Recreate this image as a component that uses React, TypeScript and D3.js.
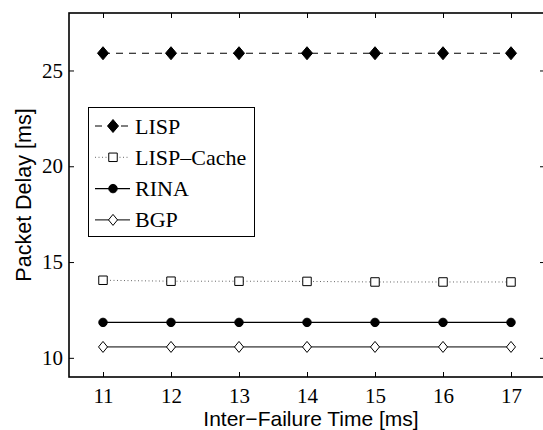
import React, { useEffect, useRef } from "react";
import * as d3 from "d3";

const failureTimes = [11, 12, 13, 14, 15, 16, 17];
const lispDelay = [25.9, 25.9, 25.9, 25.9, 25.9, 25.9, 25.9];
const lispCacheDelay = [14.05, 14.0, 14.0, 13.99, 13.96, 13.96, 13.96];
const rinaDelay = [11.85, 11.85, 11.85, 11.85, 11.85, 11.85, 11.85];
const bgpDelay = [10.57, 10.57, 10.57, 10.57, 10.57, 10.57, 10.57];
const seriesNames = ["LISP", "LISP\u2013Cache", "RINA", "BGP"];
const xTicks = [11, 12, 13, 14, 15, 16, 17];
const yTicks = [10, 15, 20, 25];

// diamond with its own width/height ratio (matlab style, not d3's thin one)
const diamond = (hw: number, hh: number) => ({
  draw(ctx: any) {
    ctx.moveTo(0, -hh);
    ctx.lineTo(hw, 0);
    ctx.lineTo(0, hh);
    ctx.lineTo(-hw, 0);
    ctx.closePath();
  },
});

type Style = {
  dash: string | null;
  stroke: string;
  width: number;
  symbol: any;
  size: number;
  fill: string;
};

const styles: Style[] = [
  { dash: "7,6", stroke: "#000", width: 1.2, symbol: diamond(5.5, 6.5), size: 1, fill: "#000" },
  { dash: "1,2.5", stroke: "#666", width: 1, symbol: d3.symbolSquare, size: 72, fill: "#fff" },
  { dash: null, stroke: "#000", width: 1.2, symbol: d3.symbolCircle, size: 56, fill: "#000" },
  { dash: null, stroke: "#000", width: 1, symbol: diamond(4.5, 5.5), size: 1, fill: "#fff" },
];

const serif = "Liberation Serif, Times New Roman, DejaVu Serif, serif";
const sans = "Liberation Sans, Arial, Helvetica, sans-serif";

const App: React.FC = () => {
  const ref = useRef<SVGSVGElement | null>(null);

  useEffect(() => {
    const svg = d3.select(ref.current);
    svg.selectAll("*").remove();

    const W = 543;
    const H = 430;
    const left = 69;
    const top = 13;
    const right = 545;
    const bottom = 377;

    svg.attr("width", W).attr("height", H);
    svg.append("rect").attr("width", W).attr("height", H).attr("fill", "#fff");

    const x = d3.scaleLinear().domain([10.5, 17.5]).range([left, right]);
    const y = d3.scaleLinear().domain([9, 28]).range([bottom, top]);
    const fmt = d3.format("d");

    // axes
    const bx = svg
      .append("g")
      .attr("transform", `translate(0,${bottom})`)
      .call(
        d3.axisBottom(x).tickValues(xTicks).tickFormat(fmt as any).tickSize(-5).tickSizeOuter(0).tickPadding(11)
      );
    const lx = svg
      .append("g")
      .attr("transform", `translate(${left},0)`)
      .call(
        d3.axisLeft(y).tickValues(yTicks).tickFormat(fmt as any).tickSize(-5).tickSizeOuter(0).tickPadding(6)
      );
    const tx = svg
      .append("g")
      .attr("transform", `translate(0,${top})`)
      .call(d3.axisTop(x).tickValues(xTicks).tickSize(-5).tickSizeOuter(0).tickFormat(() => ""));
    const rx = svg
      .append("g")
      .attr("transform", `translate(${right},0)`)
      .call(d3.axisRight(y).tickValues(yTicks).tickSize(-5).tickSizeOuter(0).tickFormat(() => ""));

    [bx, lx, tx, rx].forEach((g) => {
      g.attr("font-family", serif).attr("font-size", 21);
      g.select(".domain").remove();
      g.selectAll(".tick line").attr("stroke", "#000").attr("stroke-width", 1);
      g.selectAll("text").attr("fill", "#000");
    });

    svg
      .append("rect")
      .attr("x", left)
      .attr("y", top)
      .attr("width", right - left)
      .attr("height", bottom - top)
      .attr("fill", "none")
      .attr("stroke", "#000")
      .attr("stroke-width", 1.6);

    // series
    const allSeries = [lispDelay, lispCacheDelay, rinaDelay, bgpDelay];
    const line = d3
      .line<number>()
      .x((_, i) => x(failureTimes[i]))
      .y((d) => y(d));

    allSeries.forEach((vals, k) => {
      const s = styles[k];
      svg
        .append("path")
        .attr("d", line(vals)!)
        .attr("fill", "none")
        .attr("stroke", s.stroke)
        .attr("stroke-width", s.width)
        .attr("stroke-dasharray", s.dash);
      svg
        .append("g")
        .selectAll("path")
        .data(vals)
        .join("path")
        .attr("transform", (d, i) => `translate(${x(failureTimes[i])},${y(d)})`)
        .attr("d", d3.symbol().type(s.symbol).size(s.size)()!)
        .attr("fill", s.fill)
        .attr("stroke", "#000")
        .attr("stroke-width", 1);
    });

    // legend
    const legend = svg.append("g");
    legend
      .append("rect")
      .attr("x", 88.5)
      .attr("y", 107.5)
      .attr("width", 166)
      .attr("height", 129)
      .attr("fill", "#fff")
      .attr("stroke", "#000")
      .attr("stroke-width", 1);

    seriesNames.forEach((name, k) => {
      const s = styles[k];
      const cy = 126 + k * 31.3;
      legend
        .append("line")
        .attr("x1", 95)
        .attr("x2", 130)
        .attr("y1", cy)
        .attr("y2", cy)
        .attr("stroke", s.stroke)
        .attr("stroke-width", s.width)
        .attr("stroke-dasharray", s.dash);
      legend
        .append("path")
        .attr("transform", `translate(113,${cy})`)
        .attr("d", d3.symbol().type(s.symbol).size(s.size)()!)
        .attr("fill", s.fill)
        .attr("stroke", "#000")
        .attr("stroke-width", 1);
      legend
        .append("text")
        .attr("x", 135)
        .attr("y", cy + 7.5)
        .attr("font-family", serif)
        .attr("font-size", 22)
        .attr("fill", "#000")
        .text(name);
    });

    // axis labels
    svg
      .append("text")
      .attr("x", 311)
      .attr("y", 426)
      .attr("text-anchor", "middle")
      .attr("font-family", sans)
      .attr("font-size", 21)
      .attr("fill", "#000")
      .text("Inter\u2212Failure Time [ms]");
    svg
      .append("text")
      .attr("transform", `translate(31,195) rotate(-90)`)
      .attr("text-anchor", "middle")
      .attr("font-family", sans)
      .attr("font-size", 21.5)
      .attr("fill", "#000")
      .text("Packet Delay [ms]");
  }, []);

  return (
    <div style={{ position: "absolute", left: 0, top: 0 }}>
      <svg ref={ref} style={{ display: "block" }} />
    </div>
  );
};

export default App;
